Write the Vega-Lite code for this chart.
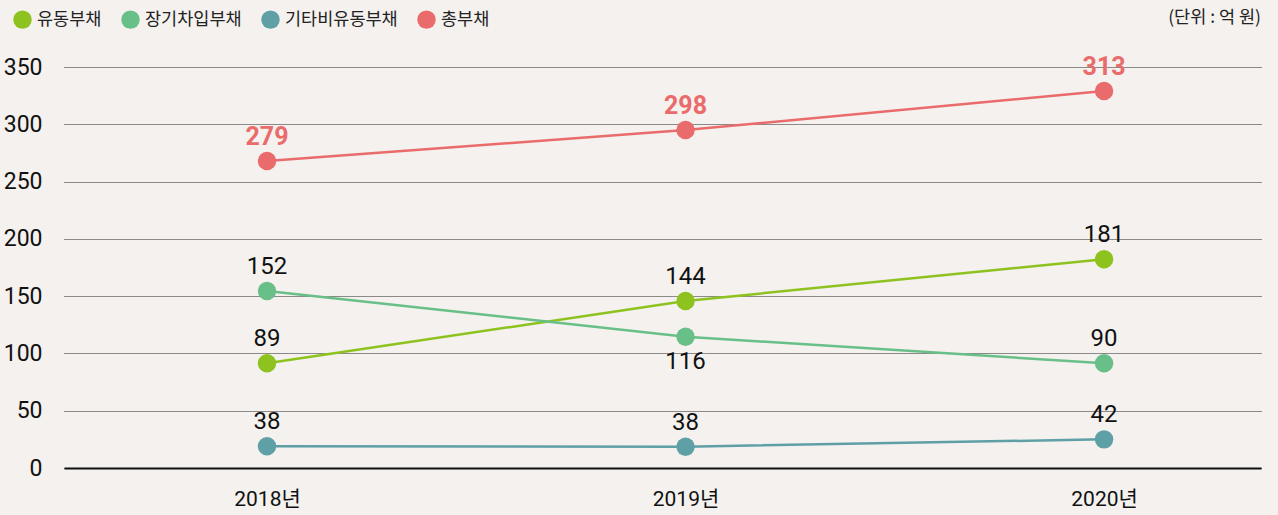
{
  "$schema": "https://vega.github.io/schema/vega-lite/v6.json",
  "width": 1197,
  "height": 401,
  "autosize": {"type": "none"},
  "padding": {"left": 64, "top": 67, "right": 17, "bottom": 47},
  "background": "#f4f1ee",
  "config": {"view": {"stroke": null}},
  "title": {
    "text": "(단위 : 억 원)",
    "anchor": "end",
    "orient": "top",
    "fontSize": 17.5,
    "fontWeight": "normal",
    "font": "Noto Sans CJK KR",
    "color": "#222222",
    "baseline": "middle",
    "offset": -25
  },
  "data": {
    "values": [
      {"year": "2018년", "series": "유동부채", "plot": 91.4, "label": "89"},
      {"year": "2019년", "series": "유동부채", "plot": 145.8, "label": "144"},
      {"year": "2020년", "series": "유동부채", "plot": 182.2, "label": "181"},
      {"year": "2018년", "series": "장기차입부채", "plot": 154.5, "label": "152"},
      {"year": "2019년", "series": "장기차입부채", "plot": 114.6, "label": "116"},
      {"year": "2020년", "series": "장기차입부채", "plot": 91.4, "label": "90"},
      {"year": "2018년", "series": "기타비유동부채", "plot": 19.0, "label": "38"},
      {"year": "2019년", "series": "기타비유동부채", "plot": 18.6, "label": "38"},
      {"year": "2020년", "series": "기타비유동부채", "plot": 25.0, "label": "42"},
      {"year": "2018년", "series": "총부채", "plot": 268.0, "label": "279"},
      {"year": "2019년", "series": "총부채", "plot": 295.0, "label": "298"},
      {"year": "2020년", "series": "총부채", "plot": 329.0, "label": "313"}
    ]
  },
  "encoding": {
    "x": {
      "field": "year",
      "type": "nominal",
      "sort": ["2018년", "2019년", "2020년"],
      "scale": {"type": "point", "domain": ["2018년", "2019년", "2020년"], "padding": 0.43, "align": 0.564},
      "axis": {
        "title": null,
        "labelAngle": 0,
        "ticks": false,
        "domain": true,
        "domainColor": "#111111",
        "domainWidth": 2.2,
        "grid": false,
        "labelFont": "Roboto, Noto Sans CJK KR",
        "labelFontSize": 21,
        "labelColor": "#111111",
        "labelPadding": 20
      }
    },
    "y": {
      "field": "plot",
      "type": "quantitative",
      "scale": {"domain": [0, 350], "nice": false, "zero": true},
      "axis": {
        "title": null,
        "values": [0, 50, 100, 150, 200, 250, 300, 350],
        "domain": false,
        "ticks": false,
        "grid": true,
        "gridColor": "#222222",
        "gridDash": [1, 1],
        "gridWidth": 1,
        "labelFont": "Roboto",
        "labelFontSize": 23,
        "labelColor": "#111111",
        "labelPadding": 22
      }
    },
    "color": {
      "field": "series",
      "type": "nominal",
      "scale": {
        "domain": ["유동부채", "장기차입부채", "기타비유동부채", "총부채"],
        "range": ["#8dc21f", "#68bf87", "#5ea0a6", "#ea6b6b"]
      },
      "legend": {
        "title": null,
        "orient": "none",
        "direction": "horizontal",
        "legendX": -51,
        "legendY": -57,
        "symbolType": "circle",
        "symbolSize": 340,
        "symbolStrokeWidth": 0,
        "labelFont": "Noto Sans CJK KR",
        "labelFontSize": 17.5,
        "labelColor": "#222222",
        "labelOffset": 5,
        "columnPadding": 19,
        "labelLimit": 300,
        "encode": {
          "symbols": {
            "update": {
              "fill": {"scale": "color", "field": "value"},
              "fillOpacity": {"value": 1},
              "opacity": {"value": 1},
              "strokeWidth": {"value": 0}
            }
          }
        }
      }
    }
  },
  "layer": [
    {
      "mark": {"type": "line", "strokeWidth": 2.5}
    },
    {
      "mark": {"type": "point", "filled": true, "opacity": 1, "size": 340, "shape": "circle"}
    },
    {
      "transform": [{"filter": "datum.series != '총부채' && !(datum.series == '장기차입부채' && datum.year == '2019년')"}],
      "mark": {"type": "text", "dy": -24, "baseline": "middle", "font": "Roboto", "fontSize": 24},
      "encoding": {"text": {"field": "label"}, "color": {"value": "#111111"}}
    },
    {
      "transform": [{"filter": "datum.series == '장기차입부채' && datum.year == '2019년'"}],
      "mark": {"type": "text", "dy": 25, "baseline": "middle", "font": "Roboto", "fontSize": 24},
      "encoding": {"text": {"field": "label"}, "color": {"value": "#111111"}}
    },
    {
      "transform": [{"filter": "datum.series == '총부채'"}],
      "mark": {"type": "text", "dy": -24, "baseline": "middle", "font": "Roboto", "fontSize": 25, "fontWeight": "bold"},
      "encoding": {"text": {"field": "label"}, "color": {"value": "#ea6b6b"}}
    }
  ]
}
